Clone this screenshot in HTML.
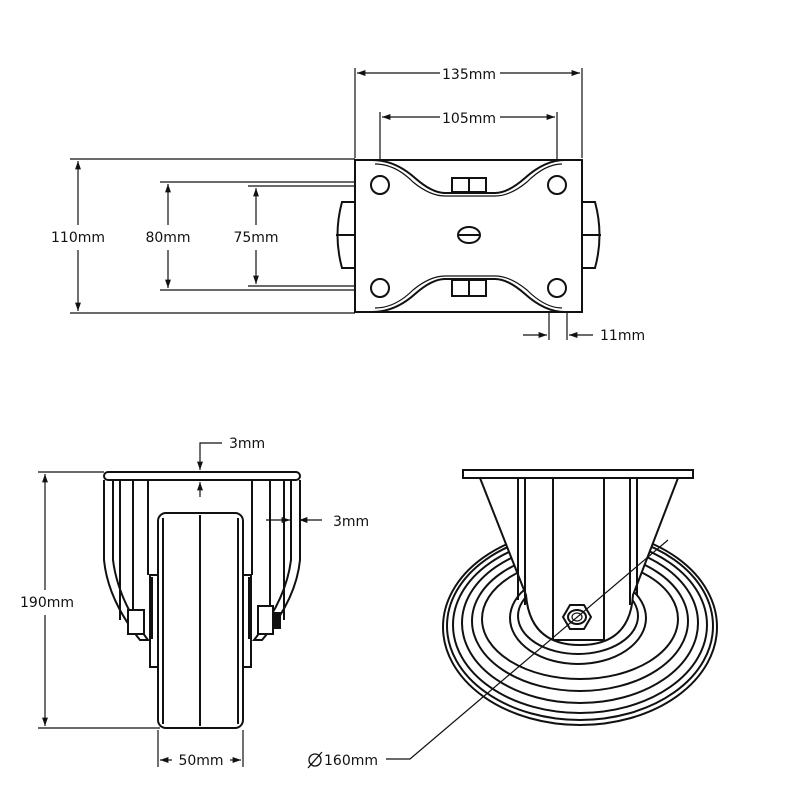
<!DOCTYPE html>
<html><head><style>html,body{margin:0;padding:0;background:#fff}svg{display:block}
text{font-family:"DejaVu Sans","Liberation Sans",sans-serif;font-size:14px;fill:#111}</style></head>
<body>
<svg width="800" height="800" viewBox="0 0 800 800" xmlns="http://www.w3.org/2000/svg">
<defs>
<marker id="a" viewBox="0 0 10 10" refX="10" refY="5" markerWidth="7" markerHeight="7" orient="auto-start-reverse"><path d="M0,1.5 L10,5 L0,8.5 Z" fill="#111"/></marker>
</defs>
<g stroke="#111" stroke-width="1.2" fill="none">
<line x1="355" y1="68" x2="355" y2="158"/><line x1="582" y1="68" x2="582" y2="158"/>
<line x1="357" y1="73" x2="440" y2="73" marker-start="url(#a)"/><line x1="500" y1="73" x2="580" y2="73" marker-end="url(#a)"/>
<line x1="380" y1="112" x2="380" y2="183"/><line x1="557" y1="112" x2="557" y2="183"/>
<line x1="382" y1="117" x2="440" y2="117" marker-start="url(#a)"/><line x1="500" y1="117" x2="555" y2="117" marker-end="url(#a)"/>
<line x1="70" y1="159" x2="355" y2="159"/><line x1="70" y1="313" x2="355" y2="313"/>
<line x1="78" y1="161" x2="78" y2="225" marker-start="url(#a)"/><line x1="78" y1="250" x2="78" y2="311" marker-end="url(#a)"/>
<line x1="160" y1="182" x2="380" y2="182"/><line x1="160" y1="290" x2="380" y2="290"/>
<line x1="168" y1="184" x2="168" y2="225" marker-start="url(#a)"/><line x1="168" y1="250" x2="168" y2="288" marker-end="url(#a)"/>
<line x1="248" y1="186" x2="380" y2="186"/><line x1="248" y1="286" x2="380" y2="286"/>
<line x1="256" y1="188" x2="256" y2="225" marker-start="url(#a)"/><line x1="256" y1="250" x2="256" y2="284" marker-end="url(#a)"/>
<line x1="549" y1="290" x2="549" y2="340"/><line x1="567" y1="290" x2="567" y2="340"/>
<line x1="523" y1="335" x2="547" y2="335" marker-end="url(#a)"/><line x1="593" y1="335" x2="569" y2="335" marker-end="url(#a)"/>
</g>
<g stroke="#111" stroke-width="2" fill="#fff">
<path d="M355,202 L342,202 Q333,235 342,268 L355,268 Z"/><line x1="336" y1="235" x2="355" y2="235"/>
<path d="M582,202 L595,202 Q604,235 595,268 L582,268 Z"/><line x1="601" y1="235" x2="582" y2="235"/>
<rect x="355" y="160" width="227" height="152"/>
<path d="M372,160 Q395,160 415,178 Q432,193 445,193 L495,193 Q508,193 525,178 Q545,160 565,160" fill="none"/>
<path d="M375,164 Q395,164 413,182 Q430,196 445,196 L495,196 Q510,196 527,182 Q545,164 562,164" fill="none" stroke-width="1.2"/>
<path d="M372,312 Q395,312 415,294 Q432,279 445,279 L495,279 Q508,279 525,294 Q545,312 565,312" fill="none"/>
<path d="M375,308 Q395,308 413,290 Q430,276 445,276 L495,276 Q510,276 527,290 Q545,308 562,308" fill="none" stroke-width="1.2"/>
<rect x="452" y="178" width="34" height="14"/><line x1="469" y1="178" x2="469" y2="192"/>
<rect x="452" y="280" width="34" height="16"/><line x1="469" y1="280" x2="469" y2="296"/>
<circle cx="380" cy="185" r="9"/><circle cx="557" cy="185" r="9"/>
<circle cx="380" cy="288" r="9"/><circle cx="557" cy="288" r="9"/>
<ellipse cx="469" cy="235" rx="11" ry="8"/><line x1="458" y1="235" x2="480" y2="235"/>
</g>
<g stroke="#111" stroke-width="1.2" fill="none">
<line x1="38" y1="472" x2="104" y2="472"/><line x1="38" y1="728" x2="160" y2="728"/>
<line x1="45" y1="474" x2="45" y2="590" marker-start="url(#a)"/><line x1="45" y1="615" x2="45" y2="726" marker-end="url(#a)"/>
<polyline points="222,443 200,443 200,470" marker-end="url(#a)"/>
<line x1="200" y1="497" x2="200" y2="482" marker-end="url(#a)"/>
<line x1="266" y1="520" x2="290" y2="520" marker-end="url(#a)"/><line x1="322" y1="520" x2="299" y2="520" marker-end="url(#a)"/>
<line x1="158" y1="730" x2="158" y2="767"/><line x1="243" y1="730" x2="243" y2="767"/>
<line x1="160" y1="760" x2="172" y2="760" marker-start="url(#a)"/><line x1="230" y1="760" x2="241" y2="760" marker-end="url(#a)"/>
</g>
<g stroke="#111" stroke-width="2" fill="#fff">
<path d="M104,480 L104,560 Q108,600 140,640 L148,640 Q118,600 113,560 L113,480"/>
<path d="M300,480 L300,560 Q296,600 262,640 L254,640 Q286,600 291,560 L291,480"/>
<line x1="120" y1="480" x2="120" y2="620"/><line x1="133" y1="480" x2="133" y2="625"/><line x1="148" y1="480" x2="148" y2="575"/>
<line x1="284" y1="480" x2="284" y2="620"/><line x1="270" y1="480" x2="270" y2="625"/><line x1="252" y1="480" x2="252" y2="575"/>
<rect x="128" y="610" width="16" height="24"/><rect x="258" y="606" width="15" height="28"/><rect x="273" y="613" width="7" height="15" fill="#111"/>
<rect x="150" y="575" width="8" height="92"/><rect x="243" y="575" width="8" height="92"/>
<rect x="150" y="577" width="3" height="62" fill="#111" stroke="none"/><rect x="248" y="577" width="3" height="62" fill="#111" stroke="none"/>
<rect x="104" y="472" width="196" height="8" rx="4"/>
<rect x="158" y="513" width="85" height="215" rx="8"/>
<line x1="163" y1="518" x2="163" y2="724"/><line x1="238" y1="518" x2="238" y2="724"/><line x1="200" y1="515" x2="200" y2="726"/>
</g>
<g stroke="#111" stroke-width="2" fill="none">
<ellipse cx="580" cy="627" rx="137" ry="98"/>
<ellipse cx="580" cy="626" rx="133" ry="94"/>
<ellipse cx="580" cy="625" rx="127" ry="88"/>
<ellipse cx="580" cy="623" rx="118" ry="80"/>
<ellipse cx="580" cy="621" rx="108" ry="70"/>
<ellipse cx="580" cy="619" rx="98" ry="60"/>
<ellipse cx="578" cy="618" rx="68" ry="46"/>
<ellipse cx="578" cy="616" rx="60" ry="38"/>
<path d="M480,478 L678,478 L633,595 Q630,645 580,645 Q530,645 526,595 Z" fill="#fff"/>
<line x1="518" y1="478" x2="518" y2="600"/><line x1="525" y1="478" x2="525" y2="605"/>
<line x1="553" y1="478" x2="553" y2="640"/><line x1="604" y1="478" x2="604" y2="640"/>
<line x1="630" y1="478" x2="630" y2="605"/><line x1="637" y1="478" x2="637" y2="595"/>
<line x1="553" y1="640" x2="604" y2="640"/>
<rect x="463" y="470" width="230" height="8" fill="#fff"/>
<polygon points="563,617 570,605 584,605 591,617 584,629 570,629" fill="#fff"/>
<ellipse cx="577" cy="617" rx="9" ry="7"/><ellipse cx="577" cy="617" rx="5" ry="4" stroke-width="1.2"/>
</g>
<polyline points="386,759 410,759 668,540" stroke="#111" stroke-width="1.2" fill="none"/>
<g stroke="#111" stroke-width="1.3" fill="none"><circle cx="315" cy="760" r="6"/><line x1="308" y1="768" x2="322" y2="752"/></g>
<g>
<text x="469" y="79" text-anchor="middle">135mm</text>
<text x="469" y="123" text-anchor="middle">105mm</text>
<text x="78" y="242" text-anchor="middle">110mm</text>
<text x="168" y="242" text-anchor="middle">80mm</text>
<text x="256" y="242" text-anchor="middle">75mm</text>
<text x="600" y="340">11mm</text>
<text x="229" y="448">3mm</text>
<text x="333" y="526">3mm</text>
<text x="47" y="607" text-anchor="middle">190mm</text>
<text x="201" y="765" text-anchor="middle">50mm</text>
<text x="324" y="765">160mm</text>
</g>
</svg>
</body></html>
